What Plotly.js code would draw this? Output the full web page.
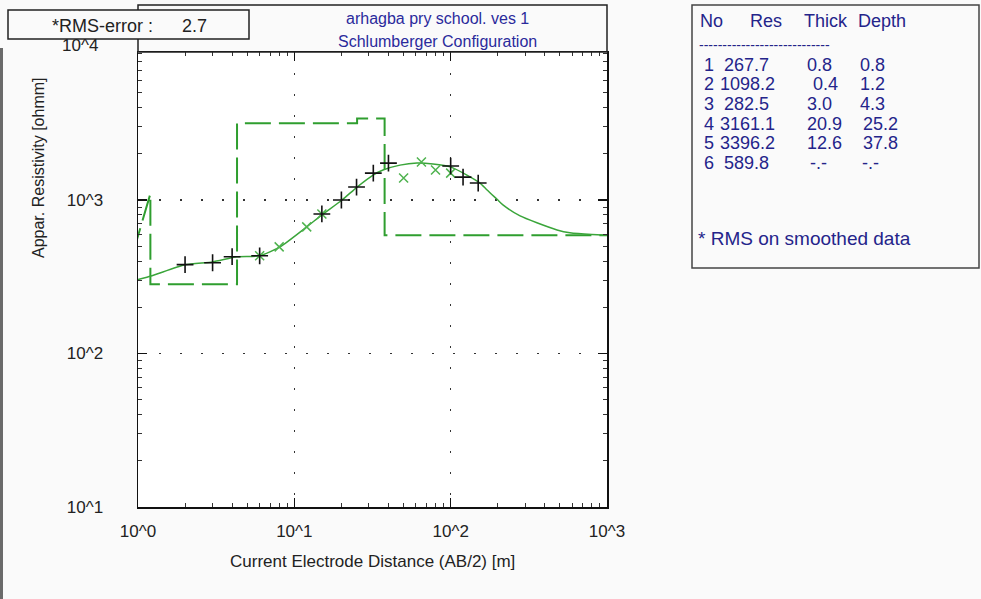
<!DOCTYPE html>
<html><head><meta charset="utf-8">
<script src="https://cdn.plot.ly/plotly-3.0.1.min.js"></script>
<style>html,body{margin:0;padding:0;background:#fafafa;}#chart{width:981px;height:599px;}</style>
</head><body><div id="chart"></div>
<script>
// ---- data ----
const obsAB = [2, 3, 4, 6, 15, 20, 25, 32, 40, 100, 120, 150];
const obsRho = [379, 390, 427, 433, 811, 1000, 1214, 1497, 1738, 1663, 1410, 1289];

const smoothAB = [6, 8, 12, 15, 50, 65, 80, 100];
const smoothRho = [433, 495, 668, 811, 1390, 1766, 1567, 1496];

const curveAB = [1.0, 1.23, 2.0, 3.0, 4.3, 6.0, 8.1, 12.0, 15.0, 20.2, 25.2, 31.9, 36.9, 47.4, 60.9, 77.1, 100.5, 127, 154, 171, 198, 216, 278, 356, 479, 579, 800, 1000];
const curveRho = [303, 321, 378, 395, 427, 433, 495, 668, 800, 1000, 1214, 1453, 1567, 1687, 1739, 1714, 1637, 1453, 1289, 1161, 1010, 929, 787, 710, 638, 611, 595, 590];

const layerNo = [1, 2, 3, 4, 5, 6];
const layerRes = [267.7, 1098.2, 282.5, 3161.1, 3396.2, 589.8];
const layerThick = ['0.8', '0.4', '3.0', '20.9', '12.6', '-.-'];
const layerDepth = ['0.8', '1.2', '4.3', '25.2', '37.8', '-.-'];
const depthVals = [0.8, 1.2, 4.3, 25.2, 37.8];

const xTickVals = [1, 10, 100, 1000];
const xTickText = ['10^0', '10^1', '10^2', '10^3'];
const yTickVals = [10, 100, 1000];
const yTickText = ['10^1', '10^2', '10^3'];
const yTopTick = '10^4';

const titleLines = ['arhagba pry school. ves 1', 'Schlumberger Configuration'];
const rmsLabel = '*RMS-error :';
const rmsValue = '2.7';
const xTitle = 'Current Electrode Distance (AB/2) [m]';
const yTitle = 'Appar. Resistivity [ohmm]';
const tableHead = ['No', 'Res', 'Thick', 'Depth'];
const tableNote = '* RMS on smoothed data';

// ---- layer model step line built from table ----
const stepX = [0.5], stepY = [layerRes[0]];
for (let i = 0; i < layerRes.length; i++) {
  const left = i === 0 ? 0.5 : depthVals[i - 1];
  const right = i < depthVals.length ? depthVals[i] : 1000;
  if (i !== 1) { stepX.push(left); stepY.push(layerRes[i]); }
  stepX.push(right); stepY.push(layerRes[i]);
}

// ---- geometry helpers (plot area 138..607 x 52..507 px) ----
const L = 138, R = 607, T = 52, B = 507;
const W = 981, H = 599;
const px = v => (v - L) / (R - L);
const py = v => (B - v) / (B - T);
const FONT = 'Liberation Sans, Arial, sans-serif';
const BLUE = '#2a2a9c';
const NAVY = '#24248a';

const traces = [
  {x: stepX, y: stepY, mode: 'lines', line: {color: '#2f9e2f', width: 2, dash: '26px,8px'}, hoverinfo: 'skip'},
  {x: curveAB, y: curveRho, mode: 'lines', line: {color: '#3aa53a', width: 1.5, shape: 'spline', smoothing: 0.6}},
  {x: smoothAB, y: smoothRho, mode: 'markers', marker: {symbol: 'x-thin-open', size: 9, color: '#4fb34f', line: {color: '#4fb34f', width: 1.5}}},
  {x: obsAB, y: obsRho, mode: 'markers', marker: {symbol: 'cross-thin-open', size: 12, color: '#111', line: {color: '#111', width: 1.6}}}
];

const shapes = [
  {type: 'rect', xref: 'paper', yref: 'paper', x0: px(138), x1: px(607), y0: py(52), y1: py(5), line: {color: '#222', width: 1.5}, fillcolor: 'rgba(0,0,0,0)', layer: 'above'},
  {type: 'rect', xref: 'paper', yref: 'paper', x0: px(8), x1: px(249), y0: py(39), y1: py(10), line: {color: '#222', width: 1.5}, fillcolor: '#fafafa', layer: 'above'},
  {type: 'rect', xref: 'paper', yref: 'paper', x0: px(692), x1: px(979), y0: py(268), y1: py(5), line: {color: '#444', width: 1.5}, fillcolor: 'rgba(0,0,0,0)', layer: 'above'},
  {type: 'rect', xref: 'paper', yref: 'paper', x0: px(0), x1: px(3), y0: py(599), y1: py(48), line: {width: 0}, fillcolor: '#6a6a6a', layer: 'above'}
];

const ann = [];
function txt(t, x, y, opts) {
  ann.push(Object.assign({text: t, xref: 'paper', yref: 'paper', x: px(x), y: py(y), showarrow: false,
    xanchor: 'left', yanchor: 'middle', font: {family: FONT, size: 16, color: '#222'}}, opts || {}));
}
txt(titleLines[0], 437, 18, {xanchor: 'center', font: {family: FONT, size: 16, color: BLUE}});
txt(titleLines[1], 437, 41, {xanchor: 'center', font: {family: FONT, size: 16, color: BLUE}});
txt(rmsLabel, 50, 26, {font: {family: FONT, size: 18, color: '#222'}});
txt(rmsValue, 180, 26, {font: {family: FONT, size: 18, color: '#222'}});
txt(yTopTick, 100, 45, {xanchor: 'right', font: {family: FONT, size: 17, color: '#222'}});
txt(xTitle, 372, 561, {xanchor: 'center', font: {family: FONT, size: 17, color: '#222'}});
txt(yTitle, 38, 168, {xanchor: 'center', textangle: -90, font: {family: FONT, size: 16, color: '#222'}});

const TF = 18;
const headX = [698, 748, 802, 856];
tableHead.forEach((h, i) => txt(h, headX[i], 21, {font: {family: FONT, size: TF, color: NAVY}}));
txt('-'.repeat(28), 697, 45, {font: {family: FONT, size: 14, color: NAVY}});
const rowY0 = 65, rowDy = 19.5;
layerNo.forEach((n, i) => {
  const y = rowY0 + i * rowDy;
  const fnt = {family: FONT, size: TF, color: NAVY};
  txt(String(n), 702, y, {font: fnt});
  txt(layerRes[i].toFixed(1), layerRes[i] >= 1000 ? 718 : 722, y, {font: fnt});
  txt(layerThick[i], i === 1 ? 811 : (i === 5 ? 808 : 805), y, {font: fnt});
  txt(layerDepth[i], layerDepth[i].length === 3 ? (i === 5 ? 860 : 858) : 861, y, {font: fnt});
});
txt(tableNote, 696, 238, {font: {family: FONT, size: 19, color: NAVY}});

const axisCommon = {
  type: 'log', showline: true, linecolor: '#111', linewidth: 1.5, mirror: 'allticks',
  ticks: 'inside', ticklen: 9, tickcolor: '#111', tickwidth: 1.5,
  tickfont: {family: FONT, size: 17, color: '#222'},
  showgrid: true, gridcolor: '#333', gridwidth: 1.6, griddash: '2px,19px',
  minor: {ticks: 'inside', ticklen: 4, tickcolor: '#333', tickwidth: 1, dtick: 'D1', showgrid: false},
  zeroline: false, fixedrange: true
};

const layout = {
  width: W, height: H,
  margin: {l: L, r: W - R, t: T, b: H - B, pad: 0},
  paper_bgcolor: '#fafafa', plot_bgcolor: '#ffffff',
  showlegend: false,
  xaxis: Object.assign({}, axisCommon, {range: [0, 3], tickmode: 'array', tickvals: xTickVals, ticktext: xTickText, ticklabelstandoff: 8}),
  yaxis: Object.assign({}, axisCommon, {range: [1, 3.964], tickmode: 'array', tickvals: yTickVals, ticktext: yTickText, ticklabelstandoff: 30}),
  shapes: shapes,
  annotations: ann
};

Plotly.newPlot('chart', traces, layout, {staticPlot: true, displayModeBar: false});
</script>
</body></html>
